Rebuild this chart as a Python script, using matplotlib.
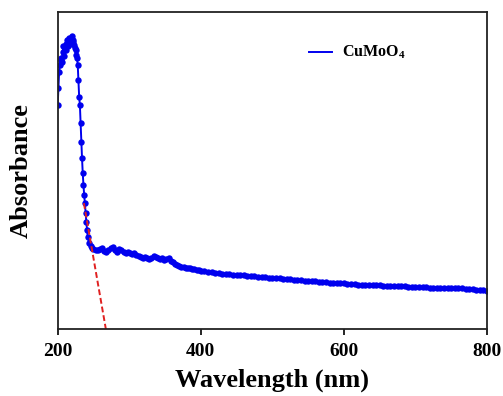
import numpy as np
import matplotlib
matplotlib.use('Agg')
import matplotlib.pyplot as plt

plt.rcParams['font.family'] = ['Liberation Serif', 'DejaVu Serif']
plt.rcParams['font.weight'] = 'bold'
plt.rcParams['mathtext.fontset'] = 'custom'
plt.rcParams['mathtext.rm'] = 'Liberation Serif:bold'
plt.rcParams['mathtext.default'] = 'rm'

# steep UV edge, 1 nm steps
wl_edge = [200, 201, 202, 203, 204, 205, 206, 207, 208, 209, 210, 211, 212, 213,
           214, 215, 216, 217, 218, 219, 220, 221, 222, 223, 224, 225, 226, 227,
           228, 229, 230, 231, 232, 233, 234, 235, 236, 237, 238, 239, 240, 241,
           242, 244, 246, 248]
abs_edge = [0.707, 0.760, 0.811, 0.833, 0.849, 0.855, 0.842, 0.874, 0.893, 0.861,
            0.886, 0.880, 0.899, 0.912, 0.893, 0.905, 0.918, 0.899, 0.912, 0.918,
            0.924, 0.912, 0.905, 0.896, 0.886, 0.880, 0.864, 0.855, 0.833, 0.785,
            0.732, 0.707, 0.650, 0.590, 0.539, 0.492, 0.454, 0.423, 0.397, 0.366,
            0.338, 0.312, 0.290, 0.271, 0.262, 0.256]

# shoulder region, 3 nm steps
wl_mid = [250, 253, 256, 259, 262, 265, 268, 271, 274, 277, 280, 283, 286, 289,
          292, 295, 298, 301, 304, 307, 310, 313, 316, 319, 322, 325, 328, 331,
          334, 337, 340, 343, 346, 349, 352, 355, 358, 361, 364, 367, 370, 373,
          376, 379, 382, 385, 388, 391, 394, 397, 400]
abs_mid = [0.252, 0.249, 0.249, 0.252, 0.256, 0.246, 0.243, 0.249, 0.256, 0.259,
           0.249, 0.243, 0.252, 0.249, 0.243, 0.240, 0.243, 0.240, 0.237, 0.240,
           0.233, 0.230, 0.227, 0.224, 0.227, 0.224, 0.221, 0.224, 0.230, 0.227,
           0.224, 0.221, 0.224, 0.218, 0.221, 0.224, 0.215, 0.211, 0.205, 0.202,
           0.199, 0.196, 0.196, 0.192, 0.192, 0.192, 0.189, 0.189, 0.186, 0.186,
           0.183]

# visible tail, 5 nm steps
wl_tail = list(range(405, 801, 5))
abs_tail = [0.182, 0.181, 0.179, 0.178, 0.176, 0.175, 0.174, 0.173, 0.172, 0.172,
            0.171, 0.169, 0.168, 0.167, 0.166, 0.165, 0.164, 0.163, 0.162, 0.162,
            0.161, 0.160, 0.159, 0.158, 0.157, 0.156, 0.155, 0.154, 0.153, 0.152,
            0.151, 0.150, 0.149, 0.148, 0.147, 0.146, 0.146, 0.145, 0.144, 0.144,
            0.143, 0.142, 0.141, 0.140, 0.140, 0.139, 0.139, 0.138, 0.138, 0.138,
            0.137, 0.137, 0.136, 0.136, 0.136, 0.135, 0.135, 0.134, 0.134, 0.133,
            0.133, 0.132, 0.132, 0.131, 0.131, 0.131, 0.130, 0.130, 0.130, 0.129,
            0.129, 0.128, 0.128, 0.127, 0.126, 0.125, 0.124, 0.123, 0.122, 0.121]

# band edge tangent
wl_fit = [236.6, 267.3]
abs_fit = [0.397, 0.0]

wl = np.array(wl_edge + wl_mid + wl_tail)
ab = np.array(abs_edge + abs_mid + abs_tail)

fig = plt.figure(figsize=(5.03, 3.96), dpi=100)
ax = fig.add_axes([0.1147, 0.169, 0.8535, 0.801])

ax.plot(wl, ab, color='#0000ee', lw=1.4, label='CuMoO$_4$')
ax.plot(wl, ab, 'o', color='#0000ee', ms=4.6, mew=0)
ax.plot(wl_fit, abs_fit, '--', color='#e02020', lw=1.4, dashes=(3, 1.5))

ax.set_xlim(200, 800)
ax.set_ylim(0, 1)
ax.set_xticks([200, 400, 600, 800])
ax.set_yticks([])
ax.tick_params(axis='x', direction='out', length=4, width=1.2, pad=6,
               labelsize=14, top=False)
for lab in ax.get_xticklabels():
    lab.set_fontweight('bold')
for s in ax.spines.values():
    s.set_linewidth(1.3)
    s.set_color('#222222')

ax.set_xlabel('Wavelength (nm)', fontsize=19, fontweight='bold', labelpad=6)
ax.set_ylabel('Absorbance', fontsize=19, fontweight='bold', labelpad=18)

ax.legend(loc='center left', bbox_to_anchor=(0.585, 0.871), frameon=False,
          borderaxespad=0, borderpad=0, handlelength=1.45, handletextpad=0.6,
          prop={'size': 11.5, 'weight': 'bold'})

plt.savefig('out.png', dpi=100)
